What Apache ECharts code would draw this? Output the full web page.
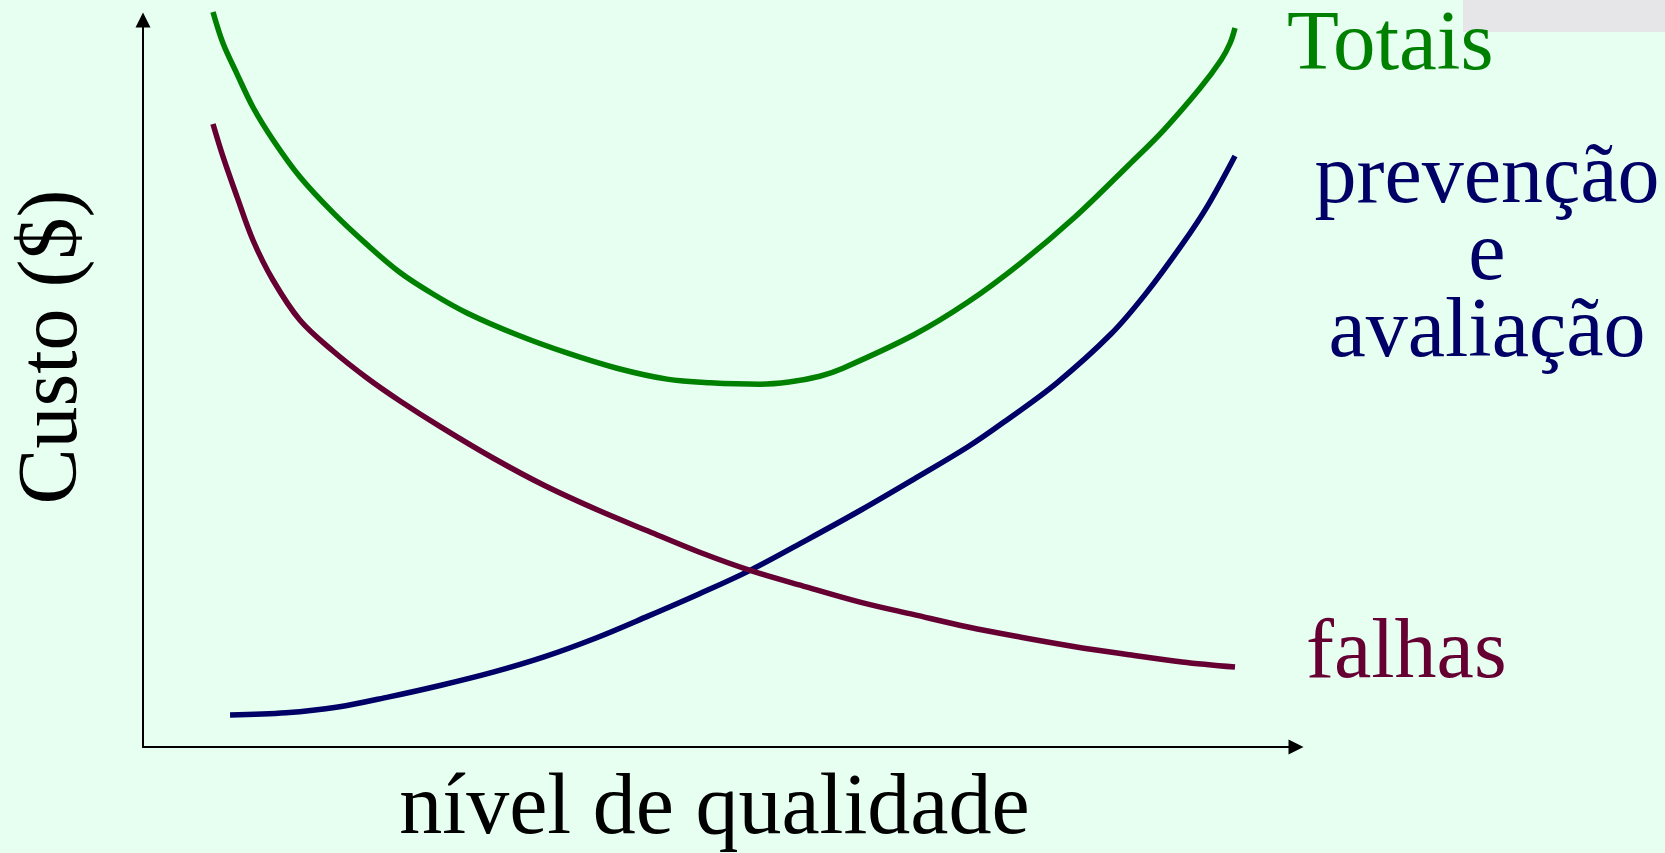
<!DOCTYPE html>
<html>
<head>
<meta charset="utf-8">
<script src="https://cdn.jsdelivr.net/npm/echarts@6/dist/echarts.min.js"></script>
<style>
html,body{margin:0;padding:0;width:100%;height:100%;background:#e6fff1;overflow:hidden;}
#chart{width:1665px;height:853px;}
</style>
</head>
<body>
<div id="chart"></div>
<script>
// Custo total
const totaisX = [6.07, 6.94, 8.15, 9.54, 11.28, 13.62, 16.48, 19.43, 22.29, 25.15, 28.10, 32.44, 36.77, 41.11, 45.45, 49.2, 53.51, 56.03, 58.7, 60.71, 66.87, 71.55, 76.15, 80.83, 85.52, 88.55, 91.67, 93.50, 94.28, 94.71];
const totaisY = [101.1, 96.8, 92.6, 88.0, 83.5, 78.4, 73.5, 69.1, 65.27, 62.31, 59.7, 56.7, 54.2, 52.1, 50.6, 50.1, 49.9, 50.2, 51.0, 52.1, 56.7, 61.2, 66.6, 72.9, 80.1, 84.9, 90.6, 94.5, 96.8, 98.9];
// Custo de falhas
const falhasX = [6.07, 6.94, 8.15, 9.54, 11.28, 13.62, 16.48, 19.43, 22.29, 25.85, 30.36, 34.78, 39.29, 43.80, 48.22, 52.65, 57.59, 62.27, 66.87, 71.55, 76.15, 80.83, 85.52, 90.11, 94.71];
const falhasY = [85.7, 81.2, 75.7, 69.7, 64.2, 58.7, 54.47, 50.76, 47.6, 44.0, 39.75, 36.0, 32.7, 29.7, 26.82, 24.3, 22.0, 19.9, 18.2, 16.5, 15.1, 13.8, 12.7, 11.7, 11.0];
// Custo de prevenção e avaliação
const prevX = [7.55, 12.40, 16.91, 21.34, 25.85, 30.36, 34.78, 39.29, 43.80, 48.22, 52.65, 57.59, 62.27, 66.87, 71.55, 74.67, 79.27, 83.95, 86.99, 90.11, 92.28, 94.71];
const prevY = [4.4, 4.7, 5.5, 6.9, 8.5, 10.3, 12.4, 15.0, 18.0, 21.05, 24.3, 28.5, 32.6, 36.86, 41.3, 44.7, 50.1, 56.8, 62.4, 69.1, 74.3, 81.3];

const seriesNames = ['Totais', 'prevenção\ne\navaliação', 'falhas'];
const axisNames = ['nível de qualidade', 'Custo ($)'];

const zip = (xs, ys) => xs.map((x, i) => [x, ys[i]]);
const FONT = '"Liberation Serif", "Times New Roman", serif';

const chart = echarts.init(document.getElementById('chart'), null, {renderer: 'canvas'});
const axisCommon = {
  type: 'value', min: 0, max: 100,
  axisTick: {show: false}, axisLabel: {show: false}, splitLine: {show: false},
  axisLine: {show: true, onZero: false, symbol: ['none', 'triangle'], symbolSize: [15, 15],
    lineStyle: {color: '#000', width: 2}}
};
const lineCommon = {type: 'line', smooth: 0.35, showSymbol: false, clip: false};
chart.setOption({
  backgroundColor: '#e6fff1',
  animation: false,
  grid: {left: 143, right: 369, top: 20, bottom: 106, outerBoundsMode: 'none', containLabel: false},
  xAxis: Object.assign({}, axisCommon, {
    name: axisNames[0], nameLocation: 'middle', nameGap: 20,
    nameTextStyle: {fontFamily: FONT, fontSize: 86, color: '#000', padding: [0, 10, 0, 0]}
  }),
  yAxis: Object.assign({}, axisCommon),
  series: [
    Object.assign({name: 'prevenção e avaliação', data: zip(prevX, prevY), lineStyle: {color: '#000066', width: 5.5}}, lineCommon),
    Object.assign({name: 'falhas', data: zip(falhasX, falhasY), lineStyle: {color: '#660033', width: 5.5}}, lineCommon),
    Object.assign({name: 'Totais', data: zip(totaisX, totaisY), lineStyle: {color: '#008000', width: 5.5}}, lineCommon)
  ],
  graphic: [
    {type: 'rect', left: 1463, top: 0, shape: {width: 202, height: 32}, style: {fill: '#e6e6e8'}, z: 0},
    {type: 'text', x: 1287, y: 47, style: {text: seriesNames[0], font: '85px ' + FONT, fill: '#008000', textAlign: 'left', textVerticalAlign: 'middle'}},
    {type: 'text', x: 1487, y: 141, style: {text: seriesNames[1], font: '84px ' + FONT, lineHeight: 77, fill: '#000066', textAlign: 'center', textVerticalAlign: 'top'}},
    {type: 'text', x: 1306, y: 655, style: {text: seriesNames[2], font: '84px ' + FONT, fill: '#660033', textAlign: 'left', textVerticalAlign: 'middle'}},
    {type: 'text', x: 54, y: 347, rotation: Math.PI / 2, style: {text: axisNames[1], font: '84px ' + FONT, fill: '#000', textAlign: 'center', textVerticalAlign: 'middle'}}
  ]
});
</script>
</body>
</html>
